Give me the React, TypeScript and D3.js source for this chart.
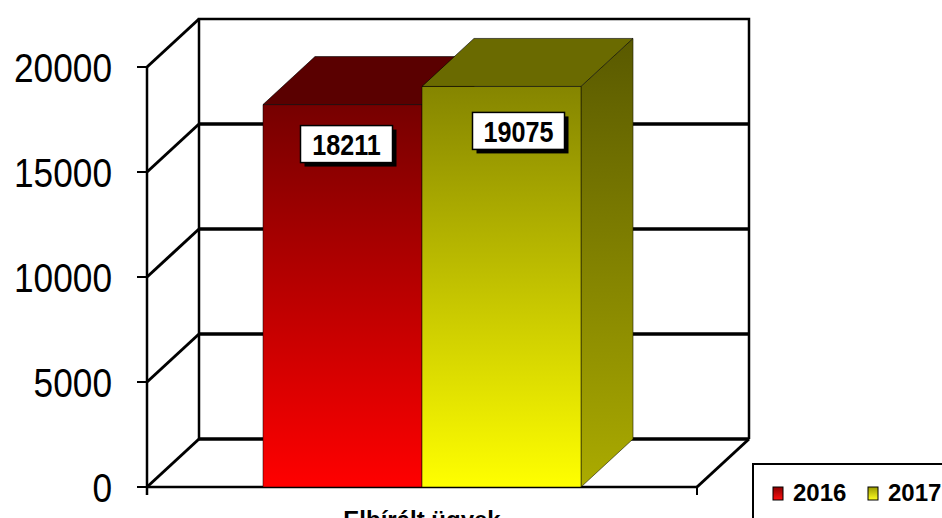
import React from "react";
import * as d3 from "d3";

const categories = ["Elbírált ügyek"];
const seriesNames = ["2016", "2017"];
const values2016 = [18211];
const values2017 = [19075];
const yTicks = [0, 5000, 10000, 15000, 20000];

const W = 942;
const H = 518;
const DX = 52;
const DY = -48;

const palette = [
  { frontTop: "#760000", frontBottom: "#ff0000", top: "#5a0000", sideTop: "#4a0000", sideBottom: "#a00000", swTop: "#8a0000", swBottom: "#ff1010" },
  { frontTop: "#858500", frontBottom: "#ffff00", top: "#6a6a00", sideTop: "#595900", sideBottom: "#abab00", swTop: "#9a9a00", swBottom: "#ffff20" },
];

export default function App() {
  const y = d3.scaleLinear().domain([0, 20000]).range([487, 67]);
  const x = d3.scaleBand().domain(categories).range([147, 697]).padding(0);
  const seriesValues = [values2016, values2017];
  const labelOff = [
    { dx: 4, dy: 21 },
    { dx: 17, dy: 26 },
  ];
  const x0 = y.range()[0];
  const xl = x.range()[0];
  const xr = x.range()[1];
  const yBase = y(0);
  const yTop = y(20000);
  const bx = (v: number) => v + DX;
  const by = (v: number) => v + DY;
  const font = "'Liberation Sans', Arial, sans-serif";

  const bars: any[] = [];
  categories.forEach((cat, ci) => {
    const bandStart = x(cat)!;
    const inner = d3
      .scaleBand()
      .domain(seriesNames)
      .range([bandStart + 116, bandStart + x.bandwidth() - 116])
      .padding(0);
    seriesNames.forEach((s, si) => {
      const v = seriesValues[si][ci];
      const xa = inner(s)!;
      const w = inner.bandwidth();
      const yt = y(v);
      const p = palette[si];
      const front = `M${xa},${yt}H${xa + w}V${yBase}H${xa}Z`;
      const top = `M${xa},${yt}L${xa + DX},${yt + DY}H${xa + w + DX}L${xa + w},${yt}Z`;
      const side = `M${xa + w},${yt}L${xa + w + DX},${yt + DY}V${yBase + DY}L${xa + w},${yBase}Z`;
      bars.push(
        <g key={`${cat}-${s}`}>
          <path d={side} fill={`url(#side${si})`} stroke="#1a1a00" strokeOpacity={0.6} strokeWidth={1} />
          <path d={front} fill={`url(#front${si})`} stroke="#000" strokeOpacity={0.5} strokeWidth={1} />
          <path d={top} fill={p.top} stroke="#000" strokeOpacity={0.6} strokeWidth={1} />
        </g>
      );
    });
    seriesNames.forEach((s, si) => {
      const v = seriesValues[si][ci];
      const xa = inner(s)!;
      const w = inner.bandwidth();
      const cx = xa + w / 2 + labelOff[si].dx;
      const top = y(v) + labelOff[si].dy;
      const bw = 92;
      const bh = 37;
      bars.push(
        <g key={`lab-${cat}-${s}`}>
          <rect x={cx - bw / 2 + 4} y={top + 4} width={bw} height={bh} fill="#000" />
          <rect x={cx - bw / 2} y={top} width={bw} height={bh} fill="#fff" stroke="#000" strokeWidth={1.5} />
          <text
            transform={`translate(${cx},${top + bh / 2 + 11}) scale(0.84,1)`}
            textAnchor="middle"
            fontFamily={font}
            fontWeight="bold"
            fontSize={30}
            fill="#000"
          >
            {String(v)}
          </text>
        </g>
      );
    });
  });

  return (
    <svg
      width={W}
      height={H}
      style={{ position: "absolute", left: 0, top: 0, background: "#fff" }}
    >
      <defs>
        {palette.map((p, i) => (
          <React.Fragment key={i}>
            <linearGradient id={`front${i}`} x1="0" y1="0" x2="0" y2="1">
              <stop offset="0" stopColor={p.frontTop} />
              <stop offset="1" stopColor={p.frontBottom} />
            </linearGradient>
            <linearGradient id={`side${i}`} x1="0" y1="0" x2="0" y2="1">
              <stop offset="0" stopColor={p.sideTop} />
              <stop offset="1" stopColor={p.sideBottom} />
            </linearGradient>
            <linearGradient id={`sw${i}`} x1="0" y1="0" x2="0" y2="1">
              <stop offset="0" stopColor={p.swTop} />
              <stop offset="1" stopColor={p.swBottom} />
            </linearGradient>
          </React.Fragment>
        ))}
      </defs>
      <rect x={0} y={0} width={W} height={H} fill="#fff" />
      {/* back wall outline */}
      <path
        d={`M${bx(xl)},${by(yBase)}V${by(yTop)}H${bx(xr)}V${by(yBase)}`}
        fill="none"
        stroke="#000"
        strokeWidth={2.5}
      />
      {/* back wall gridlines */}
      {yTicks.filter((t) => t > 0 && t < 20000).map((t) => (
        <line key={`g${t}`} x1={bx(xl)} x2={bx(xr)} y1={by(y(t))} y2={by(y(t))} stroke="#000" strokeWidth={3.5} />
      ))}
      <line x1={bx(xl)} x2={bx(xr)} y1={by(yBase)} y2={by(yBase)} stroke="#000" strokeWidth={3.5} />
      {/* left wall slants */}
      {yTicks.map((t) => (
        <line key={`s${t}`} x1={xl} y1={y(t)} x2={bx(xl)} y2={by(y(t))} stroke="#000" strokeWidth={3} />
      ))}
      {/* floor */}
      <line x1={xl} x2={xr} y1={yBase} y2={yBase} stroke="#000" strokeWidth={2.5} />
      <line x1={xr} y1={yBase} x2={bx(xr)} y2={by(yBase)} stroke="#000" strokeWidth={3} />
      {/* front axis */}
      <line x1={xl} x2={xl} y1={yTop} y2={yBase + 8} stroke="#000" strokeWidth={2.5} />
      <line x1={xr} x2={xr} y1={yBase} y2={yBase + 8} stroke="#000" strokeWidth={2} />
      {yTicks.map((t) => (
        <g key={`t${t}`}>
          <line x1={xl - 10} x2={xl} y1={y(t)} y2={y(t)} stroke="#000" strokeWidth={2} />
          <text
            transform={`translate(112,${y(t) + 15}) scale(0.86,1)`}
            textAnchor="end"
            fontFamily={font}
            fontSize={41}
            fill="#000"
          >
            {String(t)}
          </text>
        </g>
      ))}
      {bars}
      {/* category label (cut off at bottom) */}
      {categories.map((c) => (
        <text
          key={c}
          x={x(c)! + x.bandwidth() / 2}
          y={528}
          textAnchor="middle"
          fontFamily={font}
          fontWeight="bold"
          fontSize={24}
          fill="#000"
        >
          {c}
        </text>
      ))}
      {/* legend */}
      <rect x={753} y={464} width={220} height={80} fill="#fff" stroke="#000" strokeWidth={2} />
      {seriesNames.map((s, i) => {
        const lx = 773 + i * 95;
        return (
          <g key={`lg${s}`}>
            <rect x={lx} y={487} width={10} height={13} fill={`url(#sw${i})`} stroke="#000" strokeWidth={1} />
            <text x={lx + 20} y={501} fontFamily={font} fontWeight="bold" fontSize={24} fill="#000">
              {s}
            </text>
          </g>
        );
      })}
    </svg>
  );
}
